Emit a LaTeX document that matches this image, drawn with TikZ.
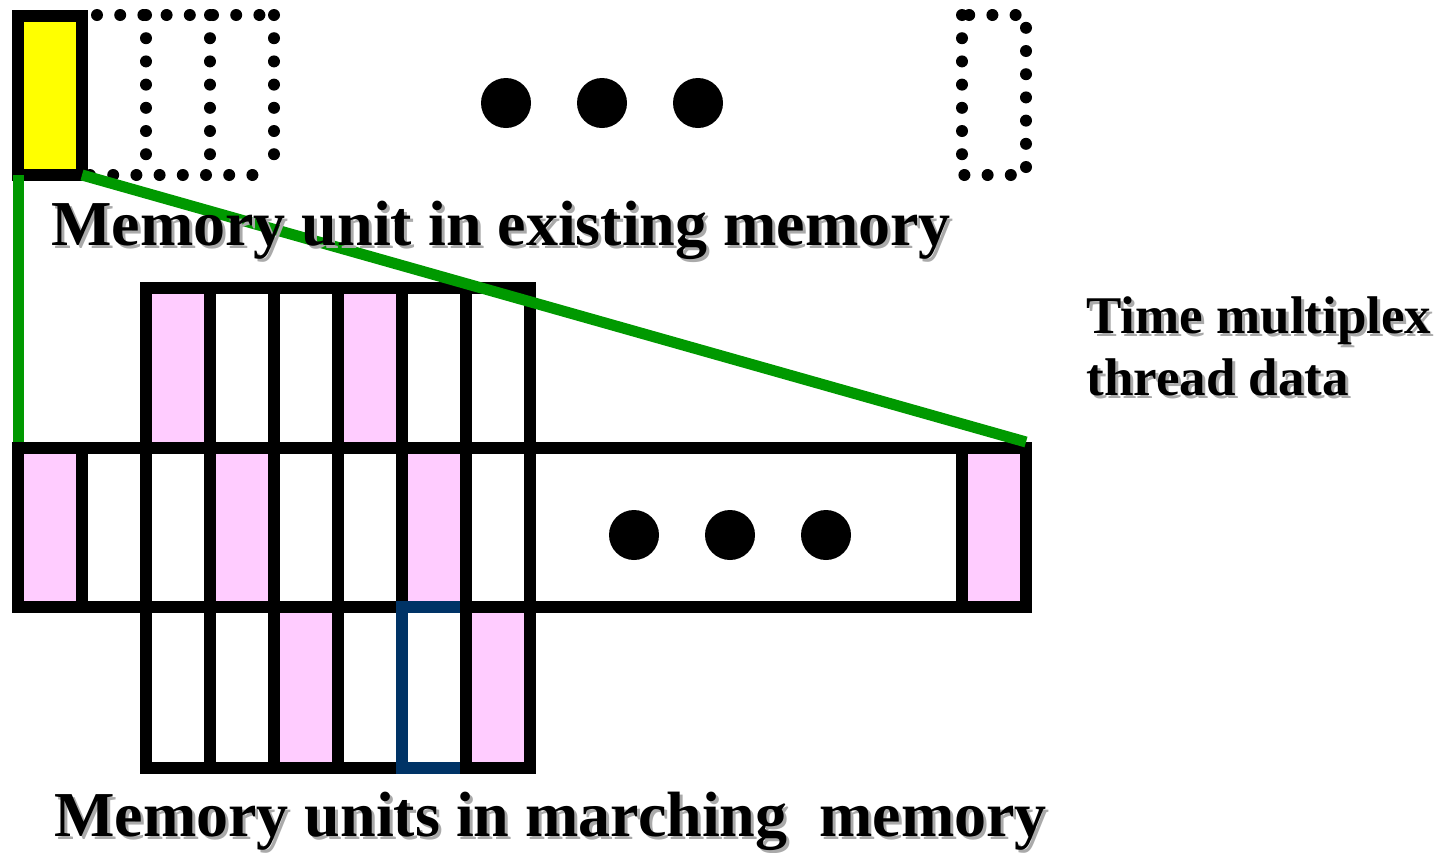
\documentclass[tikz,border=0pt]{standalone}
\usepackage{fontspec}
\setmainfont{Liberation Serif}
\definecolor{unityellow}{RGB}{255,255,0}
\definecolor{threadpink}{RGB}{255,204,255}
\definecolor{linkgreen}{RGB}{0,153,0}
\definecolor{cellblue}{RGB}{0,51,102}
\definecolor{shadowgray}{RGB}{170,170,170}
\newcommand{\shadowed}[1]{\makebox[0pt][l]{\hspace{1.5pt}\raisebox{-1.5pt}{\textcolor{shadowgray}{#1}}}#1}
\tikzset{
  cell/.style={draw, line width=6pt},
  pinkcell/.style={cell, fill=threadpink},
  dotline/.style={draw, line width=6pt, line cap=round, dash pattern=on 0pt off 11.6pt},
  link/.style={draw=linkgreen, line width=5.5pt},
  caption/.style={anchor=base west, inner sep=0pt, font=\bfseries\fontsize{32}{38}\selectfont},
  sidenote/.style={anchor=base west, inner sep=0pt, font=\bfseries\fontsize{26.5}{31}\selectfont},
}
\begin{document}
\begin{tikzpicture}[x=0.5pt, y=-0.5pt]
    \fill[white] (0,0) rectangle (1446,852);
    \useasboundingbox (0,0) rectangle (1446,852);

        \draw[dotline] (97,15) -- (274,15);
        \draw[dotline] (90,175) -- (274,175);
        \draw[dotline] (146,15) -- (146,175);
        \draw[dotline] (210,15) -- (210,175);
        \draw[dotline] (274,15) -- (274,175);
        \draw[dotline] (962,15) rectangle (1026,175);
        \node[cell, fill=unityellow, minimum width=32pt, minimum height=79.5pt,
              inner sep=0pt, outer sep=0pt] (unit) at (50,95.5) {};

        \fill (506,103) circle[radius=12.5pt];
        \fill (602,103) circle[radius=12.5pt];
        \fill (698,103) circle[radius=12.5pt];

    \node[cell, fill=white, minimum width=504pt, minimum height=79.5pt,
          inner sep=0pt, outer sep=0pt] (row) at (522,527.5) {};
            \draw[pinkcell] (18,448) rectangle (82,607);
            \draw[cell] (82,448) rectangle (146,607);
            \draw[cell] (146,448) rectangle (210,607);
            \draw[pinkcell] (210,448) rectangle (274,607);
            \draw[cell] (274,448) rectangle (338,607);
            \draw[cell] (338,448) rectangle (402,607);
            \draw[pinkcell] (402,448) rectangle (466,607);
            \draw[cell] (466,448) rectangle (530,607);
            \draw[pinkcell] (962,448) rectangle (1026,607);

        \fill (634,535) circle[radius=12.5pt];
        \fill (730,535) circle[radius=12.5pt];
        \fill (826,535) circle[radius=12.5pt];

        \draw[pinkcell] (146,288) rectangle (210,448);
        \draw[cell] (210,288) rectangle (274,448);
        \draw[cell] (274,288) rectangle (338,448);
        \draw[pinkcell] (338,288) rectangle (402,448);
        \draw[cell] (402,288) rectangle (466,448);
        \draw[cell] (466,288) rectangle (530,448);

        \draw[cell] (146,607) rectangle (210,768);
        \draw[cell] (210,607) rectangle (274,768);
        \draw[pinkcell] (274,607) rectangle (338,768);
        \draw[cell] (338,607) rectangle (402,768);
        \draw[cell, draw=cellblue] (402,607) rectangle (466,768);
        \draw[pinkcell] (466,607) rectangle (530,768);

    \draw[link] (unit.south west) -- ([yshift=3pt]row.north west);
    \draw[link] (unit.south east) -- ([yshift=3pt]row.north east);

    \node[caption] (existing) at (51,245) {\shadowed{Memory unit in existing memory}};
    \node[caption] (marching) at (54,836) {\shadowed{Memory units in marching\ \ memory}};
    \node[sidenote] (multiplex) at (1086,333) {\shadowed{Time multiplex}};
    \node[sidenote] (threaddata) at (1086,395) {\shadowed{thread data}};
\end{tikzpicture}
\end{document}
